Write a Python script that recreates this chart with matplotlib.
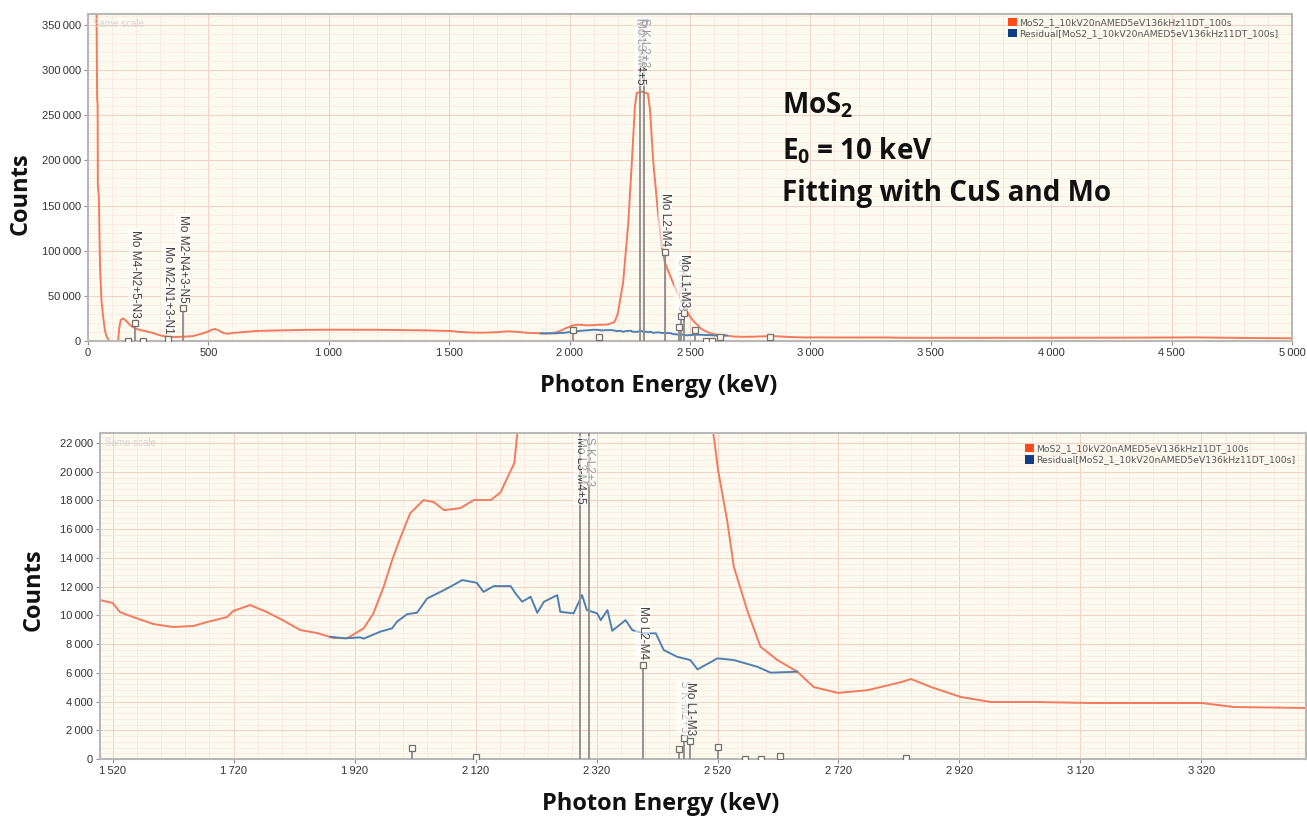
import matplotlib
matplotlib.use("Agg")
import matplotlib.pyplot as plt
from matplotlib.ticker import MultipleLocator, FuncFormatter
from matplotlib.patches import Patch

# measured spectrum, photon energy (eV) vs counts
spec_energy = [33, 37, 38, 40, 41, 45, 50, 56, 63, 70, 78, 88, 95, 125, 130, 136, 146, 160,
               174, 195, 216, 245, 270, 290, 312, 335, 353, 400, 437, 470, 494, 515, 527,
               545, 561, 580, 602, 650, 701, 800, 900, 1000, 1200, 1400, 1499, 1520, 1532,
               1554, 1587, 1620, 1653, 1676, 1709, 1719, 1747, 1775, 1801, 1830, 1858, 1885,
               1908, 1935, 1951, 1968, 1982, 1996, 2012, 2034, 2051, 2068, 2095, 2117, 2145,
               2161, 2184, 2189, 2200, 2222, 2243, 2259, 2271, 2279, 2300, 2325, 2334, 2347,
               2367, 2383, 2396, 2430, 2466, 2500, 2513, 2521, 2536, 2547, 2569, 2591, 2619,
               2652, 2679, 2719, 2769, 2824, 2840, 2873, 2922, 2972, 3043, 3138, 3209, 3320,
               3374, 3496, 3700, 4000, 4300, 4600, 4800, 5000]
spec_counts = [480000, 300000, 268000, 262000, 172000, 160000, 82000, 45000, 26600, 12000,
               4400, 300, 0, 0, 15000, 23300, 25000, 22000, 17700, 14000, 12200, 10500, 8900,
               7000, 5500, 4600, 4400, 4800, 5500, 8000, 10000, 12500, 13300, 11500, 8900,
               8000, 8900, 10000, 11100, 11800, 12300, 12500, 12400, 11800, 11070, 10860,
               10230, 9880, 9400, 9190, 9260, 9540, 9880, 10300, 10720, 10230, 9670, 8980,
               8770, 8420, 8420, 9100, 10140, 11990, 13850, 15450, 17120, 18030, 17890, 17330,
               17470, 18030, 18030, 18550, 20600, 22700, 30000, 64200, 128000, 200000,
               259200, 274700, 276000, 274000, 255900, 200000, 142000, 104100, 86400, 64200,
               42100, 27000, 22700, 20100, 16600, 13380, 10370, 7820, 6890, 6080, 5010, 4600,
               4800, 5360, 5570, 5010, 4320, 3970, 3970, 3900, 3900, 3900, 3620, 3550, 3500,
               3600, 3700, 4000, 3400, 3000]

# fit residual
resid_energy = [1880, 1904, 1929, 1935, 1962, 1982, 1990, 2007, 2023, 2040, 2062, 2078, 2098,
                2122, 2133, 2150, 2178, 2186, 2197, 2211, 2222, 2233, 2255, 2260, 2282, 2296,
                2304, 2321, 2327, 2338, 2346, 2368, 2379, 2398, 2418, 2431, 2453, 2475, 2487,
                2520, 2547, 2586, 2608, 2652]
resid_counts = [8510, 8400, 8470, 8380, 8860, 9100, 9560, 10090, 10180, 11180, 11640, 11990,
                12460, 12270, 11640, 12040, 12040, 11530, 10950, 11300, 10180, 10950, 11410,
                10250, 10140, 11410, 10370, 10140, 9670, 10370, 8930, 9670, 8980, 8750, 8750,
                7590, 7120, 6890, 6240, 7010, 6890, 6420, 6010, 6080]

# identified lines (KLM markers)
line_energy = [166, 195, 228, 333, 393, 2015, 2121, 2293, 2308, 2396, 2456, 2464, 2474, 2520,
               2565, 2592, 2624, 2831]
line_label = ["", "Mo M4-N2+5-N3", "", "Mo M2-N1+3-N1", "Mo M2-N4+3-N5", "", "",
              "Mo L3-M4+5", "S K-L2+3", "Mo L2-M4", "", "S K-M2+3", "Mo L1-M3", "", "", "",
              "", ""]
line_height_full = [0, 20000, 0, 2000, 36500, 12000, 4400, 353000, 353000, 98500, 15000,
                    28000, 31000, 12000, 0, 0, 4800, 4400]
line_height_zoom = [0, 1300, 0, 130, 2400, 770, 160, 30000, 30000, 6540, 700, 1460, 1270,
                    840, 0, 0, 200, 100]

spec_name = "MoS2_1_10kV20nAMED5eV136kHz11DT_100s"

plt.rcParams["mathtext.fontset"] = "custom"
plt.rcParams["mathtext.bf"] = "Open Sans:bold"
plt.rcParams["mathtext.rm"] = "Open Sans:bold"

bg = "#fdfbef"
orange = "#f47a5e"
blue = "#4f80b3"


def thin_thousands(v, pos):
    return f"{int(round(v)):,}".replace(",", "\u2009")


def style_axes(ax, xmajor, xminor, ymajor, yminor):
    ax.set_facecolor(bg)
    ax.xaxis.set_major_locator(MultipleLocator(xmajor))
    ax.xaxis.set_minor_locator(MultipleLocator(xminor))
    ax.yaxis.set_major_locator(MultipleLocator(ymajor))
    ax.yaxis.set_minor_locator(MultipleLocator(yminor))
    ax.xaxis.set_major_formatter(FuncFormatter(thin_thousands))
    ax.yaxis.set_major_formatter(FuncFormatter(thin_thousands))
    ax.grid(which="major", color="#f5cfc6", lw=0.7)
    ax.grid(which="minor", color="#fbe6df", lw=0.5)
    ax.set_axisbelow(True)
    for s in ax.spines.values():
        s.set_color("#b8b8b8")
        s.set_linewidth(1.5)
    ax.tick_params(which="major", length=3, color="#909090", labelsize=8,
                   labelcolor="#333333", pad=2)
    ax.tick_params(which="minor", length=0)
    ax.text(0.004, 0.985, "Same scale", transform=ax.transAxes, fontsize=7,
            color="#d4d4d4", va="top", family="Liberation Sans")


def draw_lines(ax, heights, ytop):
    for e, h, lab in zip(line_energy, heights, line_label):
        hh = min(h, ytop * 1.05)
        ax.plot([e, e], [0, hh], color="#8c8c8c", lw=1.3, zorder=3)
        ax.plot([e], [h], marker="s", ms=4, mfc=bg, mec="#707070", mew=0.9,
                zorder=4, clip_on=True)
        if not lab:
            continue
        col = "#9a9a9a" if lab.startswith("S ") else "#404040"
        box = dict(boxstyle="square,pad=0.1", fc="#ffffff", ec="none", alpha=0.55)
        if h > 0.8 * ytop:
            ax.annotate(lab, (e, ytop), xytext=(0, -3), textcoords="offset points",
                        rotation=270, ha="center", va="top", fontsize=8.5, color=col,
                        family="Liberation Sans", bbox=box, zorder=5, annotation_clip=True)
        else:
            ax.annotate(lab, (e, h), xytext=(0, 4), textcoords="offset points",
                        rotation=270, ha="center", va="bottom", fontsize=8.5, color=col,
                        family="Liberation Sans", bbox=box, zorder=5, annotation_clip=True)


fig = plt.figure(figsize=(13.07, 8.18), dpi=100)
W, H = 1307, 818
ax1 = fig.add_axes([88 / W, 1 - 341 / H, 1204 / W, 327 / H])
ax2 = fig.add_axes([100 / W, 1 - 759 / H, 1206 / W, 326 / H])

legend_handles = [Patch(fc="#ff4a1c", ec="none", label=spec_name),
                  Patch(fc="#0f3f82", ec="none", label=f"Residual[{spec_name}]")]
leg_style = dict(loc="upper right", frameon=False, fontsize=6.7, handlelength=1.0,
                 handleheight=1.0, handletextpad=0.2, labelspacing=0.2, borderpad=0.2,
                 borderaxespad=0, labelcolor="#555555")

# full spectrum
style_axes(ax1, 500, 100, 50000, 10000)
ax1.plot(spec_energy, spec_counts, color=orange, lw=1.4, zorder=2)
ax1.plot(resid_energy, resid_counts, color=blue, lw=1.4, zorder=2)
draw_lines(ax1, line_height_full, 362000)
ax1.set_xlim(0, 5000)
ax1.set_ylim(0, 362000)
ax1.legend(handles=legend_handles, bbox_to_anchor=(0.990, 0.994), **leg_style)

# zoom on the Mo L / S K region
style_axes(ax2, 200, 40, 2000, 400)
ax2.plot(spec_energy, spec_counts, color=orange, lw=1.4, zorder=2)
ax2.plot(resid_energy, resid_counts, color=blue, lw=1.4, zorder=2)
draw_lines(ax2, line_height_zoom, 22700)
ax2.set_xticks(range(1520, 3500, 200))
ax2.set_xlim(1499, 3493)
ax2.set_ylim(0, 22700)
ax2.legend(handles=legend_handles, bbox_to_anchor=(0.9925, 0.972), **leg_style)

for t in ax1.get_xticklabels() + ax1.get_yticklabels() + ax2.get_xticklabels() + ax2.get_yticklabels():
    t.set_family("Liberation Sans")

lab_font = dict(family="Open Sans", fontweight="bold", fontsize=17, color="#111111")
ax1.set_ylabel("Counts", **lab_font)
ax1.yaxis.set_label_coords(-0.046, 0.45)
ax1.set_xlabel("Photon Energy (keV)", **lab_font)
ax1.xaxis.set_label_coords(0.474, -0.1)
ax2.set_ylabel("Counts", **lab_font)
ax2.yaxis.set_label_coords(-0.045, 0.52)
ax2.set_xlabel("Photon Energy (keV)", **lab_font)
ax2.xaxis.set_label_coords(0.465, -0.1)

note = dict(family="Open Sans", fontweight="bold", fontsize=20, color="#111111",
            transform=ax1.transAxes, va="top")
ax1.text(0.576, 0.765, r"MoS$_\mathbf{2}$", **note)
ax1.text(0.576, 0.628, r"E$_\mathbf{0}$ = 10 keV", **note)
ax1.text(0.576, 0.495, "Fitting with CuS and Mo", **note)

fig.savefig("out.png", dpi=100, facecolor="white")
